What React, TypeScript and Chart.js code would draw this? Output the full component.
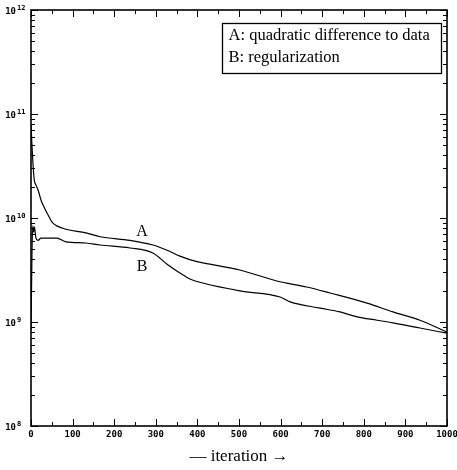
import React, { useEffect, useRef } from "react";
import { Chart, registerables } from "chart.js";

Chart.register(...registerables);

// Curve A: quadratic difference to data
const iterA = [0, 2, 5, 8, 12, 17, 24, 31, 41, 50, 62, 84, 132, 166, 238, 293, 327, 358, 399, 430, 502, 591, 663, 719, 808, 870, 935, 1000];
const valuesA = [7.8e10, 5.3e10, 3.2e10, 2.3e10, 2.07e10, 1.86e10, 1.49e10, 1.28e10, 1.07e10, 9.2e9, 8.4e9, 7.8e9, 7.2e9, 6.6e9, 6.1e9, 5.5e9, 4.9e9, 4.3e9, 3.8e9, 3.6e9, 3.16e9, 2.48e9, 2.17e9, 1.9e9, 1.52e9, 1.25e9, 1.04e9, 8.0e8];

// Curve B: regularization
const iterB = [0, 4, 6, 8, 12, 17, 24, 31, 48, 62, 84, 132, 166, 238, 293, 327, 358, 382, 413, 502, 599, 623, 695, 743, 784, 832, 870, 935, 1000];
const valuesB = [8.4e8, 8.4e9, 7.3e9, 8.2e9, 6.4e9, 6.1e9, 6.4e9, 6.4e9, 6.4e9, 6.4e9, 5.9e9, 5.75e9, 5.5e9, 5.15e9, 4.6e9, 3.6e9, 2.96e9, 2.59e9, 2.37e9, 1.99e9, 1.74e9, 1.56e9, 1.36e9, 1.25e9, 1.12e9, 1.04e9, 9.8e8, 8.75e8, 7.8e8];

// Curve labels on the plot
const curveLabels = ["A", "B"];
const curveLabelIter = [267, 267];
const curveLabelValue = [7.3e9, 3.4e9];

// Axis ticks
const yDecades = [1e8, 1e9, 1e10, 1e11, 1e12];
const yTickBase = "10";
const yTickExponents = ["8", "9", "10", "11", "12"];
const xMin = 0;
const xMax = 1000;
const xStep = 100;
const xMinorStep = 50;

const legendLines = ["A: quadratic difference to data", "B: regularization"];
const xTitle = "— iteration →";

const TICK_FONT = "DejaVu Sans Mono";
const SERIF = "'Liberation Serif', 'Times New Roman', serif";

export default function App() {
  const canvasRef = useRef<HTMLCanvasElement | null>(null);

  useEffect(() => {
    const canvas = canvasRef.current;
    if (!canvas) return;

    const framePlugin = {
      id: "framePlugin",
      afterDraw(chart: any) {
        const ctx = chart.ctx as CanvasRenderingContext2D;
        const { left, right, top, bottom } = chart.chartArea;
        const xs = chart.scales.x;
        const ys = chart.scales.y;
        ctx.save();
        ctx.strokeStyle = "#000";
        ctx.lineWidth = 1;
        ctx.beginPath();
        for (let v = xMin; v <= xMax; v += xMinorStep) {
          const px = Math.round(xs.getPixelForValue(v)) + 0.5;
          const len = v % xStep === 0 ? 7 : 4;
          ctx.moveTo(px, bottom);
          ctx.lineTo(px, bottom - len);
          ctx.moveTo(px, top);
          ctx.lineTo(px, top + len);
        }
        for (let i = 0; i < yDecades.length; i++) {
          const dec = yDecades[i];
          const kMax = i === yDecades.length - 1 ? 1 : 9;
          for (let k = 1; k <= kMax; k++) {
            const py = Math.round(ys.getPixelForValue(dec * k)) + 0.5;
            const len = k === 1 ? 7 : 4;
            ctx.moveTo(left, py);
            ctx.lineTo(left + len, py);
            ctx.moveTo(right, py);
            ctx.lineTo(right - len, py);
          }
        }
        ctx.stroke();

        ctx.lineWidth = 1.6;
        ctx.strokeRect(left, top, right - left, bottom - top);

        // y tick labels: 10 with superscript exponent
        ctx.fillStyle = "#000";
        ctx.textBaseline = "middle";
        for (let i = 0; i < yDecades.length; i++) {
          const py = ys.getPixelForValue(yDecades[i]) + 2;
          ctx.font = `bold 9px ${TICK_FONT}`;
          ctx.textAlign = "right";
          ctx.fillText(yTickBase, left - 15, py);
          ctx.font = `bold 7px ${TICK_FONT}`;
          ctx.textAlign = "left";
          ctx.fillText(yTickExponents[i], left - 14, py - 4);
        }

        // curve labels
        ctx.font = `16px ${SERIF}`;
        ctx.textAlign = "center";
        ctx.textBaseline = "middle";
        for (let i = 0; i < curveLabels.length; i++) {
          ctx.fillText(
            curveLabels[i],
            xs.getPixelForValue(curveLabelIter[i]),
            ys.getPixelForValue(curveLabelValue[i])
          );
        }

        // legend box
        const bx = 222.5, by = 23.5, bw = 219, bh = 50;
        ctx.fillStyle = "#fff";
        ctx.fillRect(bx, by, bw, bh);
        ctx.lineWidth = 1.3;
        ctx.strokeRect(bx, by, bw, bh);
        ctx.fillStyle = "#000";
        ctx.font = `16.5px ${SERIF}`;
        ctx.textAlign = "left";
        ctx.textBaseline = "alphabetic";
        ctx.fillText(legendLines[0], bx + 6, by + 16);
        ctx.fillText(legendLines[1], bx + 6, by + 38);
        ctx.restore();
      },
    };

    const chart = new Chart(canvas, {
      type: "line",
      data: {
        datasets: [
          {
            label: "A",
            data: iterA.map((x, i) => ({ x, y: valuesA[i] })),
            borderColor: "#000",
            borderWidth: 1.2,
            pointRadius: 0,
            fill: false,
            cubicInterpolationMode: "monotone",
          },
          {
            label: "B",
            data: iterB.map((x, i) => ({ x, y: valuesB[i] })),
            borderColor: "#000",
            borderWidth: 1.2,
            pointRadius: 0,
            fill: false,
            cubicInterpolationMode: "monotone",
          },
        ],
      },
      options: {
        animation: false,
        responsive: false,
        devicePixelRatio: 1,
        layout: { padding: { top: 10, right: 10, left: 0, bottom: 0 } },
        plugins: {
          legend: { display: false },
          tooltip: { enabled: false },
        },
        scales: {
          x: {
            type: "linear",
            min: xMin,
            max: xMax,
            grid: { display: false, drawTicks: false },
            border: { display: false },
            ticks: {
              stepSize: xStep,
              padding: 3,
              color: "#000",
              autoSkip: false,
              maxRotation: 0,
              font: { family: TICK_FONT, size: 9, weight: "bold" },
              callback: (v: any) => String(v),
            },
            title: {
              display: true,
              text: xTitle,
              color: "#000",
              font: { family: SERIF, size: 17 },
              padding: { top: 0, bottom: 3 },
            },
            afterFit(s: any) {
              s.height = 44;
              s.paddingLeft = 0;
              s.paddingRight = 0;
            },
          },
          y: {
            type: "logarithmic",
            min: 1e8,
            max: 1e12,
            grid: { display: false, drawTicks: false },
            border: { display: false },
            afterBuildTicks(s: any) {
              s.ticks = yDecades.map((v) => ({ value: v }));
            },
            ticks: { display: false },
            afterFit(s: any) {
              s.width = 31;
              s.paddingTop = 0;
              s.paddingBottom = 0;
            },
          },
        },
      },
      plugins: [framePlugin],
    } as any);

    return () => chart.destroy();
  }, []);

  return (
    <canvas
      ref={canvasRef}
      width={457}
      height={470}
      style={{ position: "fixed", left: 0, top: 0, width: 457, height: 470, background: "#fff" }}
    />
  );
}
